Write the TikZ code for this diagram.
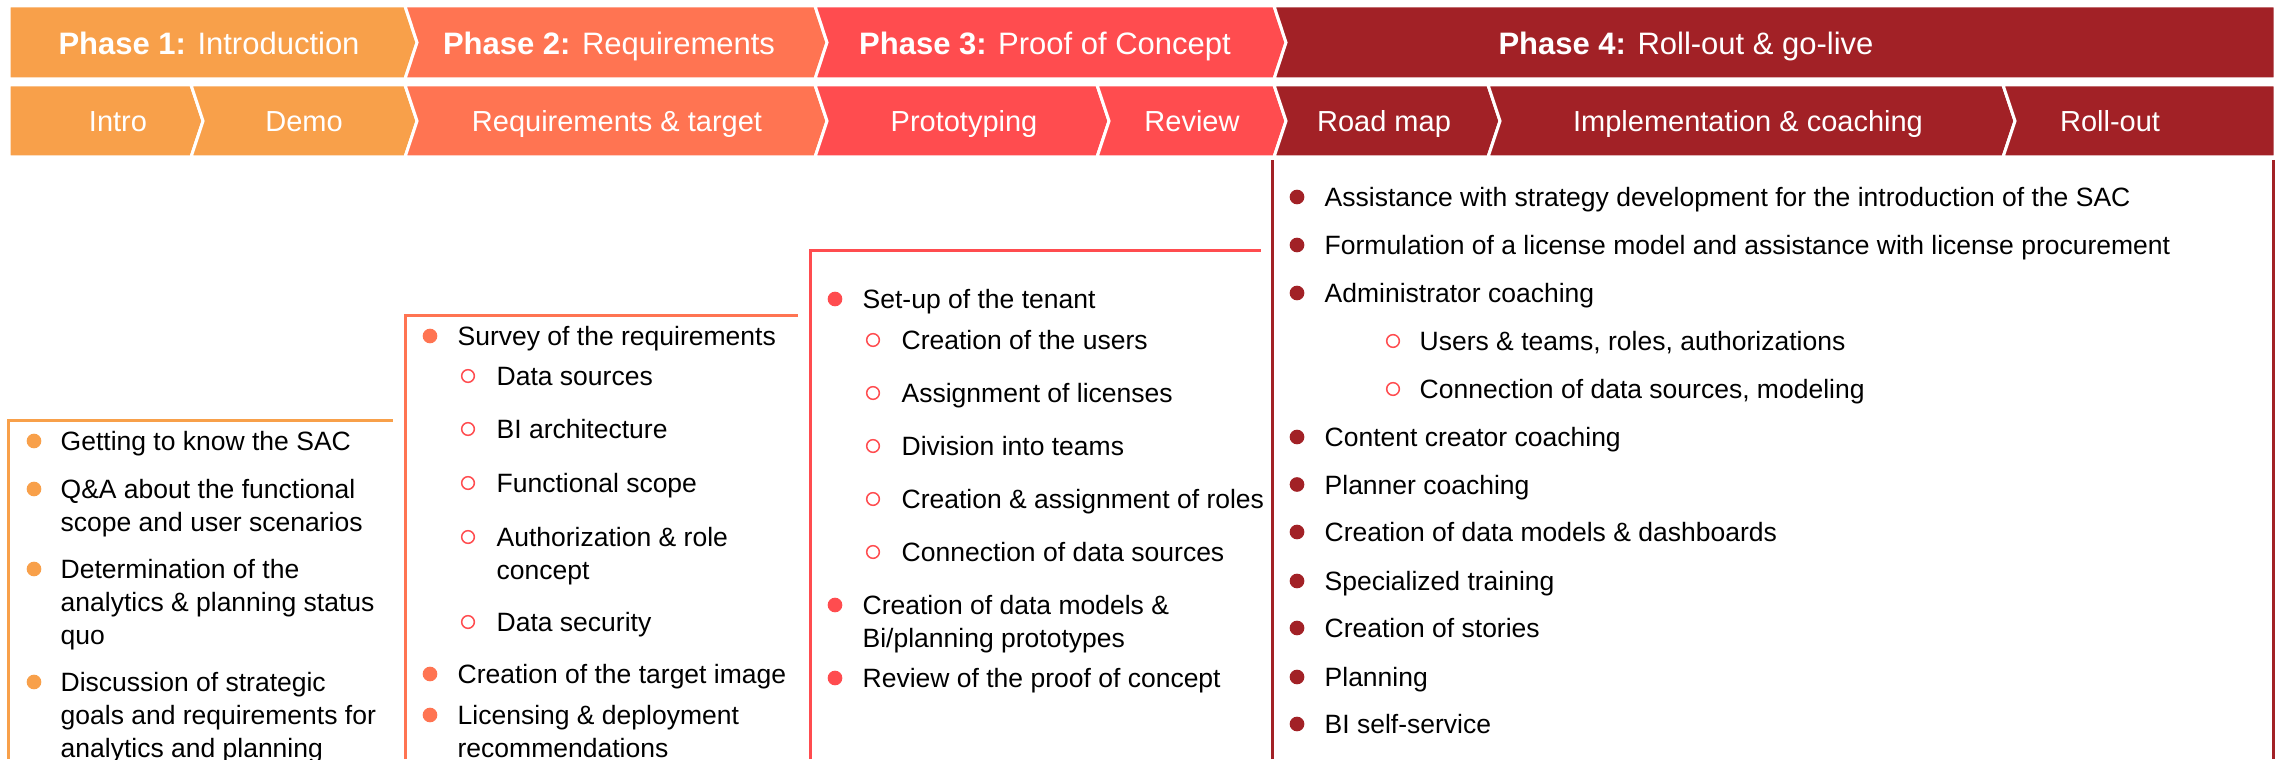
\documentclass[tikz,border=0pt]{standalone}
\usepackage{fontspec}
\setmainfont{Liberation Sans}
\usepackage{xcolor}

\definecolor{ph1}{HTML}{F8A04A}
\definecolor{ph2}{HTML}{FF7452}
\definecolor{ph3}{HTML}{FF4C4F}
\definecolor{ph4}{HTML}{A22126}

\newcommand\hdrfont{\fontsize{9.3}{11}\selectfont}
\newcommand\tabfont{\fontsize{8.7}{10}\selectfont}
\newcommand\itemfont{\fontsize{7.95}{9.9}\selectfont}

\tikzset{
  hdr/.style={anchor=base,text=white,font=\hdrfont,inner sep=0pt},
  tab/.style={anchor=base,text=white,font=\tabfont,inner sep=0pt},
  chev/.style={draw=white,line width=0.9pt},
  item/.style={anchor=base west,align=left,font=\itemfont,inner sep=0pt},
  frame/.style={line width=0.9pt},
  subdot/.style={draw=ph3,line width=0.45pt},
}

\begin{document}
\begin{tikzpicture}[x=0.3pt,y=-0.3pt]
\useasboundingbox (0,0) rectangle (2277,759);

%phase row
\foreach \a/\b/\l/\r/\c in {9/405/0/12/ph1,405/815/12/12/ph2,815/1274/12/12/ph3,1274/2275/12/0/ph4}
  \fill[\c,chev] (\a,6) -- (\b,6) -- (\b+\r,42.5) -- (\b,79) -- (\a,79) -- (\a+\l,42.5) -- cycle ;

%phase labels
\node [hdr] (phase1) at (209,54.5) {\textbf{Phase 1:} Introduction} ;
\node [hdr] (phase2) at (609,54.5) {\textbf{Phase 2:} Requirements} ;
\node [hdr] (phase3) at (1045,54.5) {\textbf{Phase 3:} Proof of Concept} ;
\node [hdr] (phase4) at (1686,54.5) {\textbf{Phase 4:} Roll-out \& go-live} ;

%step row
\foreach \a/\b/\l/\r/\c in {9/191/0/12/ph1,191/405/12/12/ph1,405/815/12/12/ph2,815/1097/12/12/ph3,1097/1274/12/12/ph3,1274/1488/12/12/ph4,1488/2003/12/12/ph4,2003/2275/12/0/ph4}
  \fill[\c,chev] (\a,85) -- (\b,85) -- (\b+\r,121) -- (\b,157) -- (\a,157) -- (\a+\l,121) -- cycle ;

%step labels
\node [tab] (intro) at (118,131.5) {Intro} ;
\node [tab] (demo) at (304,131.5) {Demo} ;
\node [tab] (target) at (617,131.5) {Requirements \& target} ;
\node [tab] (proto) at (964,131.5) {Prototyping} ;
\node [tab] (review) at (1192,131.5) {Review} ;
\node [tab] (roadmap) at (1384,131.5) {Road map} ;
\node [tab] (coaching) at (1748,131.5) {Implementation \& coaching} ;
\node [tab] (rollout) at (2110,131.5) {Roll-out} ;

%frames
\draw [ph1,frame] (8,759) -- (8,420) -- (393,420) ;
\draw [ph2,frame] (405,759) -- (405,316) -- (798,316) ;
\draw [ph3,frame] (810,759) -- (810,251) -- (1261,251) ;
\draw [ph4,frame] (1272,759) -- (1272,160) ;
\draw [ph4,frame] (2273,160) -- (2273,759) ;

%phase 1 items (y of first line / number of lines / text)
\foreach \y/\n/\t [count=\i] in {441/1/{Getting to know the SAC},489/2/{Q\&A about the functional\\scope and user scenarios},569/3/{Determination of the\\analytics \& planning status\\quo},682/3/{Discussion of strategic\\goals and requirements for\\analytics and planning}} {
  \fill [ph1] (34,\y) circle [radius=2.2pt] ;
  \node [item] (a\i) at (60,\y+9.5+33*\n-33) {\t} ;
}

%phase 2 items
\foreach \y/\n/\t [count=\i] in {336/1/{Survey of the requirements},674/1/{Creation of the target image},715/2/{Licensing \& deployment\\recommendations}} {
  \fill [ph2] (430,\y) circle [radius=2.2pt] ;
  \node [item] (b\i) at (457,\y+9.5+33*\n-33) {\t} ;
}
\foreach \y/\n/\t [count=\i] in {376/1/{Data sources},429/1/{BI architecture},483/1/{Functional scope},537/2/{Authorization \& role\\concept},622/1/{Data security}} {
  \draw [subdot] (468,\y) circle [radius=1.9pt] ;
  \node [item] (bs\i) at (496,\y+9.5+33*\n-33) {\t} ;
}

%phase 3 items
\foreach \y/\n/\t [count=\i] in {299/1/{Set-up of the tenant},605/2/{Creation of data models \&\\Bi/planning prototypes},678/1/{Review of the proof of concept}} {
  \fill [ph3] (835,\y) circle [radius=2.2pt] ;
  \node [item] (c\i) at (862,\y+9.5+33*\n-33) {\t} ;
}
\foreach \y/\t [count=\i] in {340/{Creation of the users},393/{Assignment of licenses},446/{Division into teams},499/{Creation \& assignment of roles},552/{Connection of data sources}} {
  \draw [subdot] (873,\y) circle [radius=1.9pt] ;
  \node [item] (cs\i) at (901,\y+9.5) {\t} ;
}

%phase 4 items
\foreach \y/\t [count=\i] in {197/{Assistance with strategy development for the introduction of the SAC},245/{Formulation of a license model and assistance with license procurement},293/{Administrator coaching},437/{Content creator coaching},484.5/{Planner coaching},532/{Creation of data models \& dashboards},581/{Specialized training},628/{Creation of stories},677/{Planning},724/{BI self-service}} {
  \fill [ph4] (1297,\y) circle [radius=2.2pt] ;
  \node [item] (d\i) at (1324,\y+9.5) {\t} ;
}
\foreach \y/\t [count=\i] in {341/{Users \& teams, roles, authorizations},389/{Connection of data sources, modeling}} {
  \draw [subdot] (1393,\y) circle [radius=1.9pt] ;
  \node [item] (ds\i) at (1419,\y+9.5) {\t} ;
}

\end{tikzpicture}
\end{document}
